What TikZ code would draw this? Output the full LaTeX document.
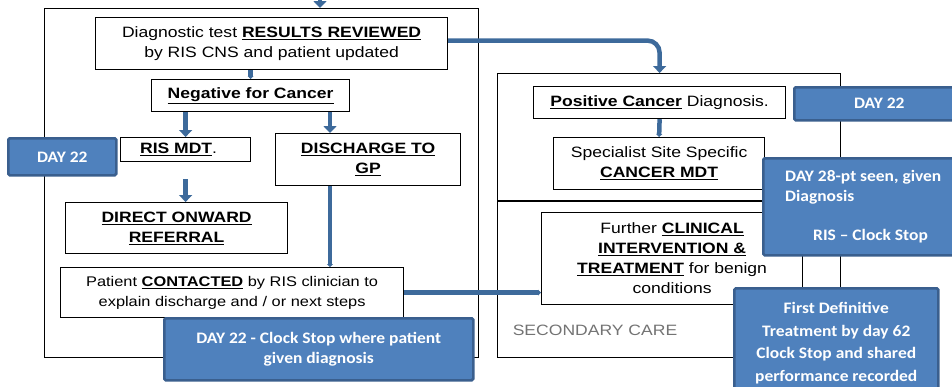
\documentclass[tikz,border=0pt]{standalone}
\usepackage{fontspec}
\setmainfont[FakeStretch=1.17]{Liberation Sans}
\newfontfamily\calibri[FakeStretch=1.09]{Carlito}
\usetikzlibrary{positioning, calc, arrows.meta}
\definecolor{daybox}{HTML}{4F81BD}
\definecolor{dayedge}{HTML}{3A5F8E}
\definecolor{flowblue}{HTML}{3D6A9B}
\tikzset{x=1pt, y=-1pt, % Pixel grid, origin top left
    frame/.style={ % Outer panels
    draw, line width=1.2pt, inner sep=0pt, anchor=north west},
    stage/.style={ % White process boxes
    draw, fill=white, line width=1.2pt, align=center, inner sep=2pt,
    anchor=north west, font=\fontsize{15}{20}\selectfont},
    daynote/.style={ % Blue time stamps
    draw=dayedge, fill=daybox, line width=2.5pt, rounded corners=1.5pt,
    text=white, align=center, inner sep=2pt, anchor=north west,
    font=\calibri\bfseries\fontsize{16}{20}\selectfont},
    flow/.style={ % Thick blue arrows
    draw=flowblue, line width=4.5pt, -{Triangle[width=13pt,length=7pt]}},
    link/.style={ % Thin-headed blue links
    draw=flowblue, line width=4.5pt, -{Triangle[width=6pt,length=3pt]}}}
\newcommand{\key}[1]{\underline{\textbf{#1}}}

\begin{document}
\begin{tikzpicture}
    \useasboundingbox (0,0) rectangle (952,386);

    % Panels
    \node[frame, minimum width=434, minimum height=349] (panelL) at (44,8) {};
    \node[frame, minimum width=343, minimum height=284] (panelR) at (497,73) {};
    \coordinate (split) at (0,201);
    \draw[line width=1.2pt] (panelR.west |- split) -- (panelR.east |- split);
    \node[text=gray!90!black, font=\fontsize{15}{20}\selectfont] (secondary) at (595,330) {SECONDARY CARE};

    % Negative route
    \node[stage, minimum width=352, minimum height=52] (results) at (95,17)
        {Diagnostic test \key{RESULTS REVIEWED}\\by RIS CNS and patient updated};
    \node[stage, minimum width=198, minimum height=32] (negative) at (151,79) {\key{Negative for Cancer}};
    \node[stage, minimum width=130, minimum height=24] (rismdt) at (120,137) {\key{RIS MDT}.\hspace{14pt}};
    \node[stage, minimum width=185, minimum height=52] (discharge) at (275,133) {\key{DISCHARGE TO}\\\key{GP}};
    \node[stage, minimum width=222, minimum height=51] (direct) at (65,202) {\key{DIRECT ONWARD}\\\key{REFERRAL}};
    \node[stage, minimum width=343, minimum height=50, font=\fontsize{14}{20}\selectfont] (contacted) at (60,267)
        {Patient \key{CONTACTED} by RIS clinician to\\explain discharge and / or next steps};

    % Positive route
    \node[stage, minimum width=252, minimum height=32] (positive) at (533,86) {\key{Positive Cancer} Diagnosis.};
    \node[stage, minimum width=211, minimum height=52] (specialist) at (553,137) {Specialist Site Specific\\\key{CANCER MDT}};
    \node[stage, minimum width=261, minimum height=92] (further) at (541,212)
        {Further \key{CLINICAL}\\\key{INTERVENTION \&}\\\key{TREATMENT} for benign\\conditions};

    % Arrows
    \coordinate (entry) at (320,-5);
    \coordinate (dcol) at (330,0);
    \draw[flow] (entry) -- (entry |- panelL.north);
    \draw[link] (results.south -| negative.north) -- (negative.north);
    \draw[flow] (negative.south -| rismdt.north) -- (rismdt.north);
    \draw[flow] (negative.south -| dcol) -- (discharge.north -| dcol);
    \draw[flow] ($(rismdt.south)+(0,17)$) -- (direct.north -| rismdt.south);
    \draw[link] (discharge.south -| dcol) -- (contacted.north -| dcol);
    \draw[link] (contacted.east) -- (contacted.east -| further.west);
    \draw[flow, rounded corners=12pt] ($(results.east)+(0,-3)$) -| (panelR.north -| positive.north);
    \draw[link] (positive.south) -- (specialist.north);

    % Day markers
    \node[daynote, minimum width=108, minimum height=37] (dayL) at (7,137) {DAY 22};
    \node[daynote, minimum width=309, minimum height=62] (dayStop) at (163,317)
        {DAY 22 - Clock Stop where patient\\given diagnosis};
    \node[daynote, minimum width=170, minimum height=33] (dayR) at (793,86) {DAY 22};
    \node[daynote, minimum width=200, minimum height=97, align=left, inner xsep=16pt] (day28) at (762,157)
        {DAY 28-pt seen, given\\Diagnosis\\[19pt]\hspace{28pt}RIS – Clock Stop};
    \node[daynote, minimum width=204, minimum height=110, font=\calibri\bfseries\fontsize{16}{22.5}\selectfont] (firstdef) at (733,287)
        {First Definitive\\Treatment by day 62\\Clock Stop and shared\\performance recorded};
\end{tikzpicture}
\end{document}
